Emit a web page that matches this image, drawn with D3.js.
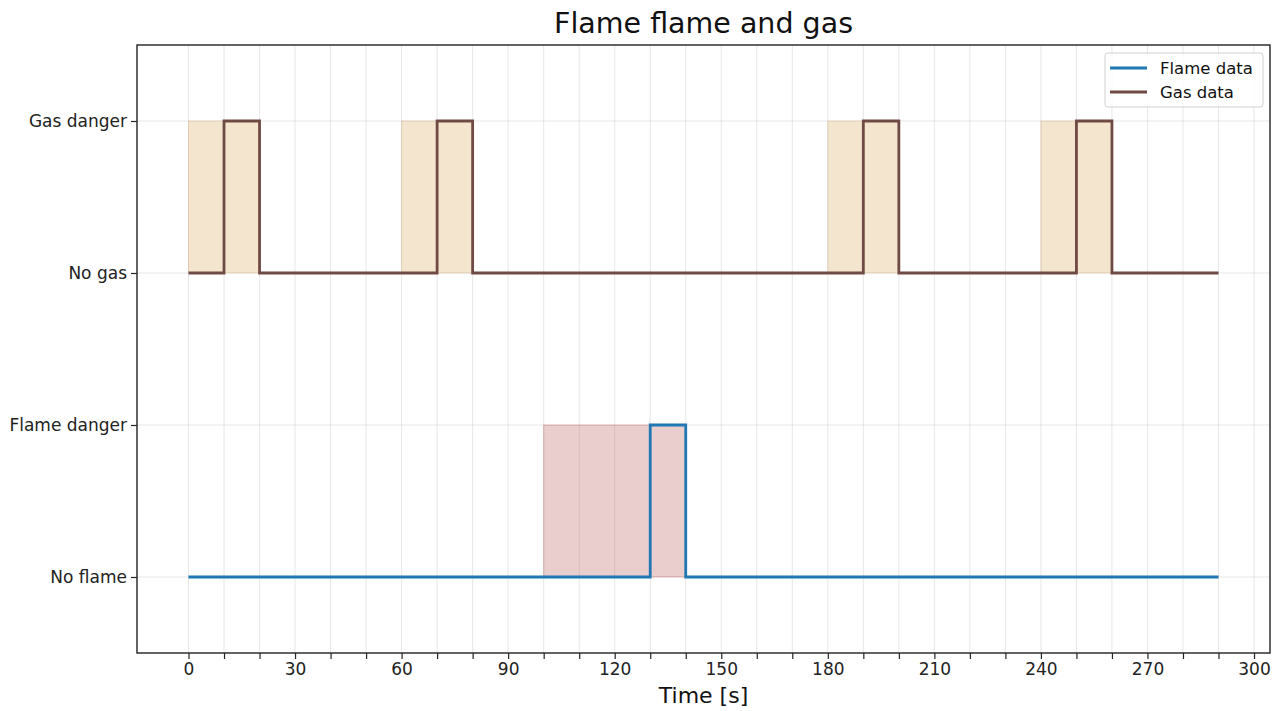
<!DOCTYPE html>
<html>
<head>
<meta charset="utf-8">
<script src="https://cdn.jsdelivr.net/npm/d3@7"></script>
<style>
  body { margin: 0; background: #fff; }
  svg text { font-family: 'DejaVu Sans', sans-serif; }
</style>
</head>
<body>
<div id="chart"></div>
<script>
// ── Data ──
const flameT = [0, 130, 140, 290];
const flameV = [0, 1, 0, 0];
const gasT = [0, 10, 20, 70, 80, 190, 200, 250, 260, 290];
const gasV = [2, 3, 2, 3, 2, 3, 2, 3, 2, 2];
// shaded warning windows [start, end]
const flameWarn = [[100, 140]];
const gasWarn = [[0, 20], [60, 80], [180, 200], [240, 260]];
const yTickVals = [0, 1, 2, 3];
const yTickLabels = ['No flame', 'Flame danger', 'No gas', 'Gas danger'];
const xMinor = d3.range(0, 301, 10);

const width = 1284, height = 711;
const margin = { top: 45, right: 14, bottom: 58, left: 137 };
const innerW = width - margin.left - margin.right;
const innerH = height - margin.top - margin.bottom;

const FLAME_COL = '#1f77b4';
const GAS_COL = '#704a44';

const svg = d3.select('#chart').append('svg')
    .attr('width', width).attr('height', height);

const x = d3.scaleLinear().domain([-14.5, 304.5]).range([0, innerW]);
const y = d3.scaleLinear().domain([-0.5, 3.5]).range([innerH, 0]);

const g = svg.append('g').attr('transform', `translate(${margin.left},${margin.top})`);

// Grid
g.append('g').selectAll('line').data(xMinor).join('line')
    .attr('x1', d => x(d)).attr('x2', d => x(d))
    .attr('y1', 0).attr('y2', innerH)
    .attr('stroke', '#b0b0b0').attr('stroke-opacity', 0.35).attr('stroke-width', 0.9);
g.append('g').selectAll('line').data(yTickVals).join('line')
    .attr('x1', 0).attr('x2', innerW)
    .attr('y1', d => y(d)).attr('y2', d => y(d))
    .attr('stroke', '#b0b0b0').attr('stroke-opacity', 0.35).attr('stroke-width', 0.9);

// Shaded windows
g.append('g').selectAll('rect').data(gasWarn).join('rect')
    .attr('x', d => x(d[0])).attr('width', d => x(d[1]) - x(d[0]))
    .attr('y', y(3)).attr('height', y(2) - y(3))
    .attr('fill', '#e3bf88').attr('fill-opacity', 0.4)
    .attr('stroke', '#d2b48c').attr('stroke-opacity', 0.4);
g.append('g').selectAll('rect').data(flameWarn).join('rect')
    .attr('x', d => x(d[0])).attr('width', d => x(d[1]) - x(d[0]))
    .attr('y', y(1)).attr('height', y(0) - y(1))
    .attr('fill', '#b24848').attr('fill-opacity', 0.27)
    .attr('stroke', '#b24848').attr('stroke-opacity', 0.3);

// Step lines
const line = d3.line().x(d => x(d[0])).y(d => y(d[1])).curve(d3.curveStepAfter);
g.append('path').datum(flameT.map((t, i) => [t, flameV[i]]))
    .attr('d', line).attr('fill', 'none')
    .attr('stroke', FLAME_COL).attr('stroke-width', 2.8);
g.append('path').datum(gasT.map((t, i) => [t, gasV[i]]))
    .attr('d', line).attr('fill', 'none')
    .attr('stroke', GAS_COL).attr('stroke-width', 2.8);

// Axes
const xAxis = g.append('g').attr('transform', `translate(0,${innerH})`)
    .call(d3.axisBottom(x).tickValues(xMinor)
        .tickFormat(d => (d % 30 === 0 ? d : '')).tickSize(6).tickPadding(4));
xAxis.select('.domain').remove();
xAxis.selectAll('text').attr('font-size', '17px').attr('fill', '#222');
xAxis.selectAll('line').attr('stroke', '#222').attr('stroke-width', 1.2);

const yAxis = g.append('g')
    .call(d3.axisLeft(y).tickValues(yTickVals)
        .tickFormat((d, i) => yTickLabels[i]).tickSize(6).tickPadding(4));
yAxis.select('.domain').remove();
yAxis.selectAll('text').attr('font-size', '17px').attr('fill', '#222');
yAxis.selectAll('line').attr('stroke', '#222').attr('stroke-width', 1.2);

// Frame
g.append('rect').attr('width', innerW).attr('height', innerH)
    .attr('fill', 'none').attr('stroke', '#222').attr('stroke-width', 1.4);

// Title & label
svg.append('text').attr('x', margin.left + innerW / 2).attr('y', 33)
    .attr('text-anchor', 'middle').attr('font-size', '28.5px').attr('fill', '#111')
    .text('Flame flame and gas');
svg.append('text').attr('x', margin.left + innerW / 2).attr('y', 703)
    .attr('text-anchor', 'middle').attr('font-size', '22px').attr('fill', '#111')
    .text('Time [s]');

// Legend
const legend = g.append('g').attr('transform', `translate(${innerW - 165},8)`);
legend.append('rect').attr('width', 158).attr('height', 54).attr('rx', 3)
    .attr('fill', '#fff').attr('fill-opacity', 0.8)
    .attr('stroke', '#d0d0d0');
[['Flame data', FLAME_COL], ['Gas data', GAS_COL]].forEach(([name, col], i) => {
    const row = legend.append('g').attr('transform', `translate(0,${15 + i * 24})`);
    row.append('line').attr('x1', 5).attr('x2', 42).attr('stroke', col).attr('stroke-width', 2.8);
    row.append('text').attr('x', 55).attr('dy', '0.35em')
        .attr('font-size', '16.5px').attr('fill', '#111').text(name);
});
</script>
</body>
</html>
